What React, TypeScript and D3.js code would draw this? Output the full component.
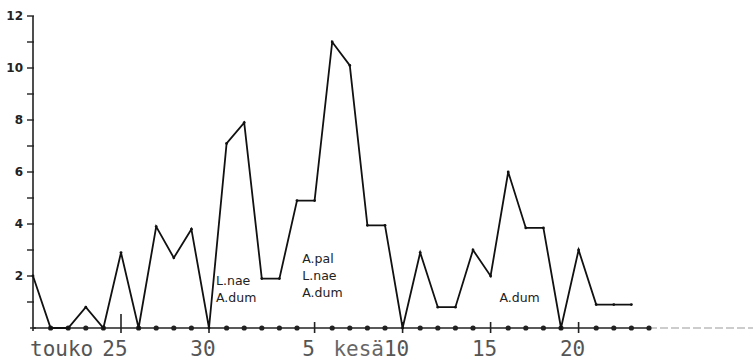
import React from 'react';
import * as d3 from 'd3';

// daily counts from 20 May (touko) to 23 June (kesä)
const counts = [
    2, 0, 0, 0.8, 0, 2.9, 0, 3.9, 2.7, 3.8,
    0, 7.1, 7.9, 1.9, 1.9, 4.9, 4.9, 11, 10.1, 3.95,
    3.95, 0, 2.9, 0.8, 0.8, 3.0, 2.0, 6.0, 3.85, 3.85,
    0, 3.0, 0.9, 0.9, 0.9,
];
const lastDay = 35;

// x axis ticks (day index) and their labels
const tickDays = [5, 10, 16, 21, 26, 31];
const tickLabels = ['25', '30', '5', '10', '15', '20'];
const monthLabels = [
    { day: 0, text: 'touko' },
    { day: 21, text: 'kesä' },
];

const yTicks = [2, 4, 6, 8, 10, 12];

// species notes written under the peaks
const notes = [
    { day: 10.4, value: 1.65, lines: ['L.nae', 'A.dum'] },
    { day: 15.3, value: 2.5, lines: ['A.pal', 'L.nae', 'A.dum'] },
    { day: 26.5, value: 1.0, lines: ['A.dum'] },
];

const W = 753;
const H = 361;
const margin = { top: 16, left: 33, right: 104, bottom: 33 };

const typewriter = '"DejaVu Sans Mono", "Liberation Mono", monospace';
const hand = '"DejaVu Sans", "Noto Sans", sans-serif';
const labelSize = 21;

export default function App() {
    const x = d3.scaleLinear()
        .domain([0, lastDay])
        .range([margin.left, W - margin.right]);
    const y = d3.scaleLinear()
        .domain([0, 12])
        .range([H - margin.bottom, margin.top]);

    const line = d3.line<number>()
        .x((d, i) => x(i))
        .y(d => y(d));

    const y0 = y(0);
    const dotDays = d3.range(1, lastDay + 1).filter(d => !tickDays.includes(d));
    const labelShift = -6;

    return (
        <svg width={W} height={H} style={{ position: 'fixed', left: 0, top: 0, background: '#fff' }}>
            {/* baseline, running past the data */}
            <line x1={x(lastDay)} x2={W} y1={y0} y2={y0} stroke="#999" strokeWidth={1} strokeDasharray="8 3" />
            <line x1={x(0)} x2={x(lastDay)} y1={y0} y2={y0} stroke="#222" strokeWidth={1.5} />

            {/* y axis */}
            <line x1={x(0)} x2={x(0)} y1={y(12)} y2={y0 + 3} stroke="#222" strokeWidth={1.6} />
            {d3.range(1, 13).map(v => (
                <line key={v} x1={x(0) - 6} x2={x(0) + 1} y1={y(v)} y2={y(v)} stroke="#222" strokeWidth={1.4} />
            ))}
            <line x1={x(0) - 3} x2={x(0) + 3} y1={y0} y2={y0} stroke="#222" strokeWidth={1.4} />
            {yTicks.map(v => (
                <text key={v} x={x(0) - 10} y={y(v) + 4} textAnchor="end"
                    fontFamily={hand} fontWeight="bold" fontSize={12} fill="#222">
                    {v}
                </text>
            ))}

            {/* day dots and date ticks on the baseline */}
            {dotDays.map(d => (
                <circle key={d} cx={x(d)} cy={y0} r={2.6} fill="#222" />
            ))}
            {tickDays.map((d, i) => (
                <line key={d} x1={x(d)} x2={x(d)} y1={y0 - (i === 0 ? 14 : 6)} y2={y0 + 5}
                    stroke="#222" strokeWidth={1.6} />
            ))}

            {/* count line */}
            <path d={line(counts) ?? ''} fill="none" stroke="#111" strokeWidth={1.8} strokeLinejoin="miter" />
            {counts.map((v, i) => (
                <circle key={i} cx={x(i)} cy={y(v)} r={1.4} fill="#111" />
            ))}

            {/* x labels */}
            {tickDays.map((d, i) => (
                <text key={d} x={x(d) + labelShift} y={H - 5} textAnchor="middle"
                    fontFamily={typewriter} fontSize={labelSize} fill="#555">
                    {tickLabels[i]}
                </text>
            ))}
            {monthLabels.map(m => (
                m.day === 0
                    ? <text key={m.text} x={x(0) - 3} y={H - 5} fontFamily={typewriter} fontSize={labelSize} fill="#555">{m.text}</text>
                    : <text key={m.text} x={x(m.day) + labelShift - labelSize * 0.602} y={H - 5} textAnchor="end"
                        fontFamily={typewriter} fontSize={labelSize} fill="#666">{m.text}</text>
            ))}

            {/* notes */}
            {notes.map((n, i) => (
                <text key={i} x={x(n.day)} y={y(n.value)} fontFamily={hand} fontSize={12.5} fill="#222">
                    {n.lines.map((l, j) => (
                        <tspan key={j} x={x(n.day)} dy={j === 0 ? 0 : 17}>{l}</tspan>
                    ))}
                </text>
            ))}
        </svg>
    );
}
